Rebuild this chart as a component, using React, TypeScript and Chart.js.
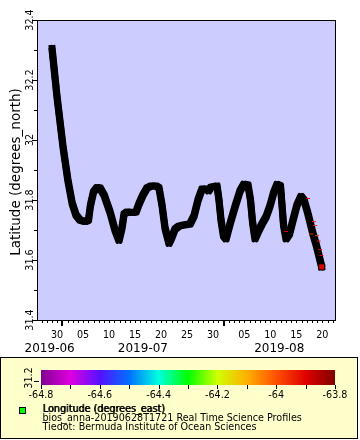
import { useEffect, useRef } from "react";
import { Chart, registerables } from "chart.js";
Chart.register(...registerables);

// Time is expressed as days since 2019-06-01T00:00Z
const trackDays = [
  28.02, 28.98, 30.13, 31.06, 31.9, 32.63, 33.4, 34.37, 35.04, 35.42, 36.0, 36.67, 37.25, 38.02,
  39.17, 40.13, 40.9, 41.48, 41.87, 42.44, 43.6, 44.17, 44.75, 45.52, 46.29, 47.06, 48.02, 48.6,
  49.17, 49.75, 50.52, 51.1, 51.67, 52.44, 53.4, 54.56, 55.33, 56.1, 56.87, 57.63, 58.12, 58.6,
  59.75, 60.13, 60.52, 61.0, 61.48, 62.25, 63.21, 64.17, 64.94, 65.71, 66.19, 66.58, 67.06, 67.63,
  68.4, 69.17, 69.94, 70.62, 71.29, 71.96, 72.25, 72.54, 73.02, 73.69, 74.37, 75.13, 75.9, 76.48,
  77.15, 77.83, 78.21, 78.79, 79.27, 79.88,
];
const trackLats = [
  32.305, 32.144, 31.978, 31.867, 31.789, 31.75, 31.733, 31.728, 31.733, 31.783, 31.827, 31.842,
  31.84, 31.817, 31.76, 31.7, 31.665, 31.707, 31.753, 31.76, 31.758, 31.76, 31.787, 31.817, 31.84,
  31.847, 31.847, 31.84, 31.783, 31.707, 31.655, 31.677, 31.703, 31.713, 31.717, 31.72, 31.747,
  31.8, 31.837, 31.837, 31.83, 31.843, 31.847, 31.8, 31.733, 31.68, 31.67, 31.72, 31.777, 31.83,
  31.853, 31.85, 31.8, 31.727, 31.67, 31.693, 31.72, 31.743, 31.78, 31.823, 31.852, 31.847, 31.783,
  31.717, 31.67, 31.687, 31.733, 31.783, 31.812, 31.8, 31.76, 31.713, 31.687, 31.653, 31.62, 31.577,
];
// Fixes whose coloured (longitude) fill stays visible in the track
const fixDays = [73.02, 77.25, 77.92, 78.4, 78.65, 78.98, 79.27, 79.56, 79.81, 79.88];
const fixLats = [31.695, 31.805, 31.687, 31.728, 31.715, 31.681, 31.663, 31.635, 31.615, 31.577];
const fixLons = [-63.9, -63.9, -63.95, -63.97, -63.97, -63.97, -63.92, -63.9, -63.88, -63.9];

const xMin = 25.13;
const xMax = 82.44;
const yMin = 31.4;
const yMax = 32.4;
const yMajorTicks = [31.4, 31.6, 31.8, 32.0, 32.2, 32.4];
const yMajorLabels = ["31.4", "31.6", "31.8", "32", "32.2", "32.4"];
const yMinorTicks = [31.5, 31.7, 31.9, 32.1, 32.3];
const dayTickValues = [29, 34, 39, 44, 49, 54, 59, 65, 70, 75, 80];
const dayTickLabels = ["30", "05", "10", "15", "20", "25", "30", "05", "10", "15", "20"];
const monthStarts = [0, 30, 61, 92];
const monthLabels = ["2019-06", "2019-07", "2019-08"];

const lonMin = -64.8;
const lonMax = -63.8;
const cbarStops = [
  "#800090", "#e000e0", "#5510ff", "#0070ff", "#00ffe0", "#00ff00",
  "#d0ff00", "#ffb000", "#ff5000", "#e00000", "#800000",
];
const cbarTickValues = [-64.8, -64.7, -64.6, -64.5, -64.4, -64.3, -64.2, -64.1, -64.0, -63.9, -63.8];
const cbarLabelValues = [-64.8, -64.6, -64.4, -64.2, -64.0, -63.8];
const cbarLabels = ["-64.8", "-64.6", "-64.4", "-64.2", "-64", "-63.8"];
const cbarSideLabel = "31.2";

const yTitle = "Latitude (degrees_north)";
const legendTitle = "Longitude (degrees_east)";
const legendLines = [
  "bios_anna-20190628T1721 Real Time Science Profiles",
  "Tiedot: Bermuda Institute of Ocean Sciences",
];

const FONT = '"DejaVu Sans", Verdana, sans-serif';
const SMALL = `9.6px ${FONT}`;

function hexToRgb(h: string) {
  const n = parseInt(h.slice(1), 16);
  return [(n >> 16) & 255, (n >> 8) & 255, n & 255];
}
function lonColor(lon: number) {
  const t = Math.max(0, Math.min(1, (lon - lonMin) / (lonMax - lonMin))) * (cbarStops.length - 1);
  const i = Math.min(cbarStops.length - 2, Math.floor(t));
  const f = t - i;
  const a = hexToRgb(cbarStops[i]);
  const b = hexToRgb(cbarStops[i + 1]);
  const c = a.map((v, k) => Math.round(v + (b[k] - v) * f));
  return `rgb(${c[0]},${c[1]},${c[2]})`;
}

// square "brush": the track line is also stroked at the four corner offsets
const BRUSH = 1.5;
const decor = {
  id: "decor",
  beforeDraw(chart: any) {
    const { ctx, chartArea: a } = chart;
    ctx.save();
    ctx.fillStyle = "#ffffff";
    ctx.fillRect(0, 0, chart.width, chart.height);
    ctx.fillStyle = "#ccccff";
    ctx.fillRect(a.left, a.top, a.right - a.left, a.bottom - a.top);
    ctx.restore();
  },
  beforeDatasetDraw(chart: any, args: any) {
    if (args.index !== 0) return;
    const { ctx, chartArea } = chart;
    const el = args.meta.dataset;
    for (const dx of [-BRUSH, BRUSH]) {
      for (const dy of [-BRUSH, BRUSH]) {
        ctx.save();
        ctx.translate(dx, dy);
        el.draw(ctx, chartArea);
        ctx.restore();
      }
    }
  },
  afterDraw(chart: any) {
    const { ctx, chartArea: a } = chart;
    const xs = chart.scales.x;
    const ys = chart.scales.y;
    ctx.save();
    ctx.strokeStyle = "#000";
    ctx.fillStyle = "#000";
    ctx.lineWidth = 1;
    const seg = (x1: number, y1: number, x2: number, y2: number) => {
      ctx.beginPath();
      ctx.moveTo(x1, y1);
      ctx.lineTo(x2, y2);
      ctx.stroke();
    };
    // frame
    ctx.strokeRect(a.left + 0.5, a.top + 0.5, a.right - a.left, a.bottom - a.top);

    // y ticks + labels
    ctx.font = SMALL;
    ctx.textAlign = "center";
    ctx.textBaseline = "alphabetic";
    yMajorTicks.forEach((v, i) => {
      const py = Math.round(ys.getPixelForValue(v)) + 0.5;
      seg(a.left - 5, py, a.left, py);
      ctx.save();
      ctx.translate(33, ys.getPixelForValue(v));
      ctx.rotate(-Math.PI / 2);
      ctx.fillText(yMajorLabels[i], 0, 0);
      ctx.restore();
    });
    yMinorTicks.forEach((v) => {
      const py = Math.round(ys.getPixelForValue(v)) + 0.5;
      seg(a.left - 3, py, a.left, py);
    });
    // y title
    ctx.save();
    ctx.font = `13.5px ${FONT}`;
    ctx.translate(19.5, (a.top + a.bottom) / 2 + 2);
    ctx.rotate(-Math.PI / 2);
    ctx.fillText(yTitle, 0, 0);
    ctx.restore();

    // x ticks
    for (let d = Math.ceil(xMin); d <= Math.floor(xMax); d++) {
      const px = Math.round(xs.getPixelForValue(d)) + 0.5;
      if (monthStarts.includes(d)) {
        const p = Math.round(xs.getPixelForValue(d));
        ctx.lineWidth = 2;
        seg(p, a.bottom, p, a.bottom + 6);
        ctx.lineWidth = 1;
      } else {
        seg(px, a.bottom, px, a.bottom + 3);
      }
    }
    ctx.font = SMALL;
    dayTickValues.forEach((v, i) => {
      ctx.fillText(dayTickLabels[i], xs.getPixelForValue(v), 337.5);
    });
    ctx.font = `12px ${FONT}`;
    monthLabels.forEach((lab, i) => {
      const s = Math.max(xMin, monthStarts[i]);
      const e = Math.min(xMax, monthStarts[i + 1]);
      ctx.fillText(lab, xs.getPixelForValue((s + e) / 2), 351.5);
    });

    // legend box
    ctx.fillStyle = "#ffffcc";
    ctx.fillRect(0.5, 357.5, 357, 81);
    ctx.strokeRect(0.5, 357.5, 357, 81);

    // colour bar
    const cx0 = 41, cx1 = 335, cy0 = 370, cy1 = 385;
    const grad = ctx.createLinearGradient(cx0, 0, cx1, 0);
    cbarStops.forEach((c, i) => grad.addColorStop(i / (cbarStops.length - 1), c));
    ctx.fillStyle = grad;
    ctx.fillRect(cx0, cy0, cx1 - cx0, cy1 - cy0);
    const cpx = (v: number) => cx0 + ((v - lonMin) / (lonMax - lonMin)) * (cx1 - cx0);
    cbarTickValues.forEach((v) => {
      const px = Math.round(cpx(v)) + 0.5;
      seg(px, cy1, px, cy1 + 4);
    });
    ctx.fillStyle = "#000";
    ctx.font = SMALL;
    cbarLabelValues.forEach((v, i) => ctx.fillText(cbarLabels[i], cpx(v), 397.5));
    seg(34, 381.5, 39, 381.5);
    ctx.save();
    ctx.translate(32, 378);
    ctx.rotate(-Math.PI / 2);
    ctx.fillText(cbarSideLabel, 0, 0);
    ctx.restore();

    // legend entry
    ctx.fillStyle = "#00ff00";
    ctx.fillRect(19, 407, 7, 7);
    ctx.strokeRect(19.5, 407.5, 6, 6);
    ctx.fillStyle = "#000";
    ctx.textAlign = "left";
    ctx.font = SMALL;
    // emboldened title (regular glyphs struck twice)
    ctx.fillText(legendTitle, 42.5, 412);
    ctx.fillText(legendTitle, 43.3, 412);
    legendLines.forEach((t, i) => ctx.fillText(t, 42.5, 421 + i * 9));
    ctx.restore();
  },
};

export default function App() {
  const ref = useRef<HTMLCanvasElement>(null);
  useEffect(() => {
    const canvas = ref.current!;
    const track = trackDays.map((d, i) => ({ x: d, y: trackLats[i] }));
    const fixes = fixDays.map((d, i) => ({ x: d, y: fixLats[i] }));
    const last = fixes.length - 1;
    const fixColors = fixLons.map(lonColor);
    const chart = new Chart(canvas, {
      type: "line",
      data: {
        datasets: [
          {
            label: "track",
            data: track,
            borderColor: "#000",
            borderWidth: 4,
            borderCapStyle: "square",
            borderJoinStyle: "round",
            pointRadius: 0,
            pointHoverRadius: 0,
            tension: 0,
            fill: false,
            order: 1,
          },
          {
            label: "fixes",
            data: fixes,
            showLine: false,
            pointStyle: fixes.map((_, i) => (i === last ? "rect" : "line")) as any,
            pointRadius: fixes.map((_, i) => (i === last ? 4.25 : 2)),
            pointBorderWidth: 1,
            pointBorderColor: fixes.map((_, i) => (i === last ? "#000" : fixColors[i])),
            pointBackgroundColor: fixColors,
            order: 0,
          },
        ] as any,
      },
      options: {
        animation: false,
        responsive: true,
        maintainAspectRatio: false,
        events: [],
        layout: { padding: { left: 37, top: 20, right: 25, bottom: 120 } },
        plugins: { legend: { display: false }, tooltip: { enabled: false } },
        scales: {
          x: { type: "linear", min: xMin, max: xMax, display: false },
          y: { type: "linear", min: yMin, max: yMax, display: false },
        },
      },
      plugins: [decor],
    });
    return () => chart.destroy();
  }, []);
  return (
    <div style={{ position: "absolute", left: 0, top: 0, width: 360, height: 440 }}>
      <canvas ref={ref} />
    </div>
  );
}
